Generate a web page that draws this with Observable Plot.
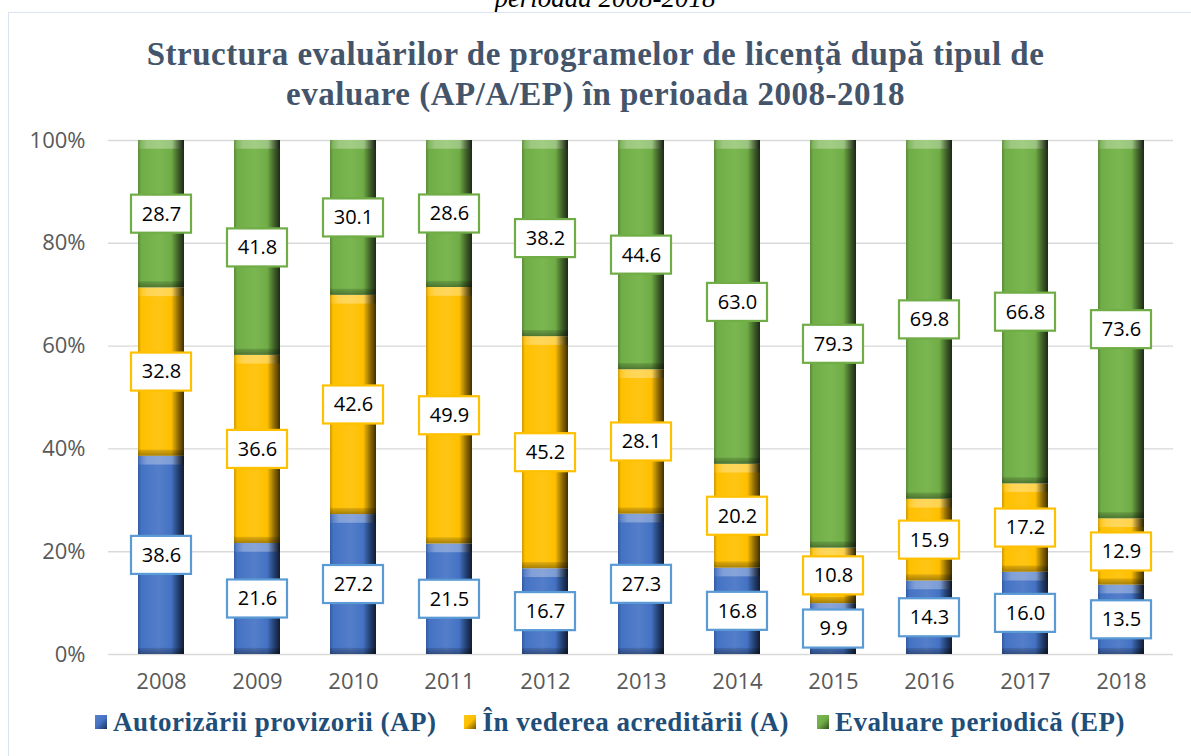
<!DOCTYPE html>
<html>
<head>
<meta charset="utf-8">
<script src="https://cdn.jsdelivr.net/npm/d3@7"></script>
<script src="https://cdn.jsdelivr.net/npm/@observablehq/plot@0.6"></script>
<style>
  html, body { margin: 0; padding: 0; background: #fff; }
  #page { position: relative; width: 1191px; height: 756px; overflow: hidden; background: #fff; }
  #cut { position: absolute; left: 0; width: 1210px; top: -17px; text-align: center;
         font: italic 27px "Liberation Serif", serif; color: #000; white-space: nowrap; }
  #frame { position: absolute; left: 8px; top: 12px; width: 1200px; height: 760px;
           border: 1.5px solid #dae3f3; box-sizing: border-box; }
  #title { position: absolute; left: 0; width: 1191px; top: 34px; text-align: center;
           font: bold 33px/40px "Liberation Serif", serif; letter-spacing: 0.5px; color: #44546a; }
  #chart { position: absolute; left: 0; top: 120px; }
  #legend { position: absolute; left: 95px; top: 707px; display: flex; align-items: center;
            font: bold 27px/30px "Liberation Serif", serif; letter-spacing: 0.5px; color: #1f4e79; white-space: nowrap; }
  .item { display: flex; align-items: center; margin-right: 28px; }
  .sw { width: 12px; height: 14px; margin-right: 6px; }
</style>
</head>
<body>
<div id="page">
  <div id="cut">perioada 2008-2018</div>
  <div id="frame"></div>
  <div id="title">Structura evaluărilor de programelor de licență după tipul de<br>evaluare (AP/A/EP) în perioada 2008-2018</div>
  <div id="chart"></div>
  <div id="legend"></div>
</div>
<script>
const years = ["2008","2009","2010","2011","2012","2013","2014","2015","2016","2017","2018"];
const seriesNames = ["Autorizării provizorii (AP)", "În vederea acreditării (A)", "Evaluare periodică (EP)"];
const apValues = [38.6, 21.6, 27.2, 21.5, 16.7, 27.3, 16.8, 9.9, 14.3, 16.0, 13.5];
const aValues  = [32.8, 36.6, 42.6, 49.9, 45.2, 28.1, 20.2, 10.8, 15.9, 17.2, 12.9];
const epValues = [28.7, 41.8, 30.1, 28.6, 38.2, 44.6, 63.0, 79.3, 69.8, 66.8, 73.6];
const yTicks = [0, 0.2, 0.4, 0.6, 0.8, 1];

const mainColors = ["#4472c4", "#ffc000", "#70ad47"];
const borderColors = ["#5b9bd5", "#ffc000", "#70ad47"];
const gradIds = ["gAP", "gA", "gEP"];

const seriesValues = [apValues, aValues, epValues];
const rows = [];
years.forEach((year, i) => {
  const total = seriesValues.reduce((s, arr) => s + arr[i], 0);
  let c = 0;
  seriesValues.forEach((arr, k) => {
    const y1 = c / total;
    c += arr[i];
    const y2 = c / total;
    rows.push({year, series: seriesNames[k], k, value: arr[i], y1, y2, mid: (y1 + y2) / 2});
  });
});

const boxHalf = 0.037;
const boxMarks = [0, 1, 2].map(k =>
  Plot.barY(rows.filter(d => d.k === k), {
    x: "year", y1: d => d.mid - boxHalf, y2: d => d.mid + boxHalf,
    fill: "white", stroke: borderColors[k], strokeWidth: 2.2,
    insetLeft: -7, insetRight: -7
  })
);

const chart = Plot.plot({
  width: 1191,
  height: 584,
  marginTop: 20,
  marginBottom: 50,
  marginLeft: 108,
  marginRight: 18,
  style: {fontFamily: "'Open Sans', sans-serif", fontSize: "22px", color: "#595959", background: "transparent"},
  x: {domain: years, paddingInner: 0.524, paddingOuter: 0.27, tickSize: 0, tickPadding: 19, label: null},
  y: {domain: [0, 1], ticks: yTicks, tickFormat: d3.format(".0%"), tickSize: 0, tickPadding: 23, label: null},
  color: {domain: seriesNames, range: gradIds.map(id => `url(#${id})`)},
  marks: [
    Plot.gridY(yTicks, {stroke: "#d9d9d9", strokeOpacity: 1, strokeWidth: 1.4}),
    Plot.barY(rows, {x: "year", y1: "y1", y2: "y2", fill: "series"}),
    Plot.barY(rows, {x: "year", y1: d => d.y2 - 0.017, y2: "y2", fill: "url(#gTop)"}),
    Plot.barY(rows, {x: "year", y1: "y1", y2: d => d.y1 + 0.012, fill: "url(#gBot)"}),
    ...boxMarks,
    Plot.text(rows, {x: "year", y: "mid", text: d => d.value.toFixed(1), fill: "#000",
      fontSize: 20, fontFamily: "'Open Sans', sans-serif"})
  ]
});

// gradient definitions for the bevelled bar look
const svg = d3.select(chart);
const defs = svg.insert("defs", ":first-child");
function shade(c, f) { const h = d3.hsl(c); h.l = Math.max(0, Math.min(1, h.l * f)); return h.formatHex(); }
mainColors.forEach((c, k) => {
  const g = defs.append("linearGradient").attr("id", gradIds[k]).attr("x1", 0).attr("x2", 1).attr("y1", 0).attr("y2", 0);
  [[0, shade(c, 0.8)], [0.07, c], [0.45, shade(c, 1.08)], [0.72, c], [0.86, shade(c, 0.6)], [1, shade(c, 0.25)]]
    .forEach(([o, col]) => g.append("stop").attr("offset", o).attr("stop-color", col));
});
const gt = defs.append("linearGradient").attr("id", "gTop").attr("x1", 0).attr("x2", 1).attr("y1", 0).attr("y2", 0);
[[0, "rgba(255,255,255,0.05)"], [0.2, "rgba(255,255,255,0.3)"], [0.75, "rgba(255,255,255,0.3)"], [1, "rgba(0,0,0,0.3)"]]
  .forEach(([o, col]) => gt.append("stop").attr("offset", o).attr("stop-color", col));
const gb = defs.append("linearGradient").attr("id", "gBot").attr("x1", 0).attr("x2", 0).attr("y1", 0).attr("y2", 1);
[[0, "rgba(0,0,0,0.12)"], [1, "rgba(0,0,0,0.35)"]]
  .forEach(([o, col]) => gb.append("stop").attr("offset", o).attr("stop-color", col));

document.getElementById("chart").appendChild(chart);

// legend
const legend = d3.select("#legend");
seriesNames.forEach((name, k) => {
  const it = legend.append("div").attr("class", "item");
  it.append("div").attr("class", "sw")
    .style("background", `linear-gradient(135deg, ${shade(mainColors[k], 1.1)} 0%, ${mainColors[k]} 50%, ${shade(mainColors[k], 0.45)} 100%)`);
  it.append("span").text(name);
});
</script>
</body>
</html>
